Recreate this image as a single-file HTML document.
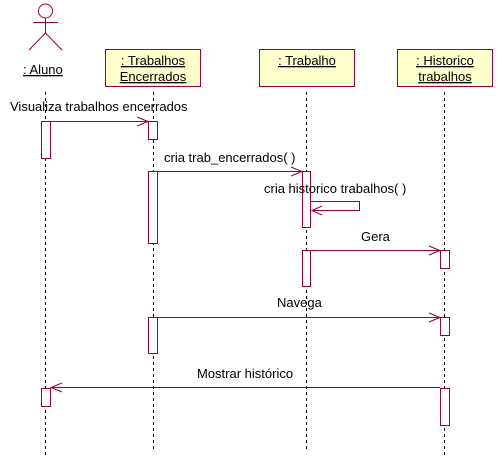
<!DOCTYPE html>
<html><head><style>
html,body{margin:0;padding:0;background:#fff;width:498px;height:464px;overflow:hidden}
text{font-family:"Liberation Sans",sans-serif;font-size:13px;fill:#000}
</style></head><body>
<svg width="498" height="464" xmlns="http://www.w3.org/2000/svg">
<g stroke="#000" stroke-width="1" stroke-dasharray="3,3">
<line x1="45.5" y1="92" x2="45.5" y2="455"/>
<line x1="153.5" y1="92" x2="153.5" y2="452"/>
<line x1="306.5" y1="92" x2="306.5" y2="452"/>
<line x1="444.5" y1="92" x2="444.5" y2="455"/>
</g>
<g stroke="#99003d" fill="none" stroke-width="1">
<circle cx="45.5" cy="11" r="7"/>
<line x1="45.5" y1="18" x2="45.5" y2="33"/>
<line x1="33" y1="22.5" x2="58" y2="22.5"/>
<line x1="45.5" y1="33" x2="29" y2="50"/>
<line x1="45.5" y1="33" x2="62" y2="50"/>
</g>
<g stroke="#99003d" fill="#ffffcc">
<rect x="105.5" y="49.5" width="95" height="37"/>
<rect x="259.5" y="49.5" width="95" height="37"/>
<rect x="397.5" y="49.5" width="95" height="37"/>
</g>
<g stroke="#99003d" fill="#fff">
<rect x="41.5" y="121.5" width="9" height="37"/>
<rect x="148.5" y="121.5" width="9" height="18"/>
<rect x="148.5" y="171.5" width="9" height="72"/>
<rect x="302.5" y="171.5" width="8" height="56"/>
<rect x="302.5" y="250.5" width="8" height="36"/>
<rect x="440.5" y="250.5" width="9" height="18"/>
<rect x="148.5" y="317.5" width="9" height="36"/>
<rect x="440.5" y="317.5" width="9" height="18"/>
<rect x="41.5" y="388.5" width="9" height="18"/>
<rect x="440.5" y="388.5" width="9" height="37"/>
</g>
<g stroke="#99003d" fill="none">
<line x1="50" y1="121.5" x2="148" y2="121.5"/><polyline points="137,117 148,121.5 137,126"/>
<line x1="157" y1="171.5" x2="302" y2="171.5"/><polyline points="291,167 302,171.5 291,176"/>
<polyline points="311,201.5 359.5,201.5 359.5,210.5 312,210.5"/><polyline points="322,206 312,210.5 322,215"/>
<line x1="310" y1="250.5" x2="440" y2="250.5"/><polyline points="429,246 440,250.5 429,255"/>
<line x1="157" y1="317.5" x2="440" y2="317.5"/><polyline points="429,313 440,317.5 429,322"/>
<line x1="440" y1="387.5" x2="51" y2="387.5"/><polyline points="62,383 51,387.5 62,392"/>
</g>
<text x="23" y="74" text-decoration="underline">: Aluno</text>
<text x="153" y="65" text-anchor="middle" text-decoration="underline">: Trabalhos </text>
<text x="153" y="81" text-anchor="middle" text-decoration="underline">Encerrados</text>
<text x="307" y="65" text-anchor="middle" text-decoration="underline">: Trabalho</text>
<text x="445" y="65" text-anchor="middle" text-decoration="underline">: Historico </text>
<text x="445" y="81" text-anchor="middle" text-decoration="underline">trabalhos</text>
<text x="10" y="111">Visualiza trabalhos encerrados</text>
<text x="164" y="162">cria trab_encerrados( )</text>
<text x="264" y="193">cria historico trabalhos( )</text>
<text x="361" y="241">Gera</text>
<text x="277" y="307">Navega</text>
<text x="197" y="378">Mostrar histórico</text>
</svg>
</body></html>
